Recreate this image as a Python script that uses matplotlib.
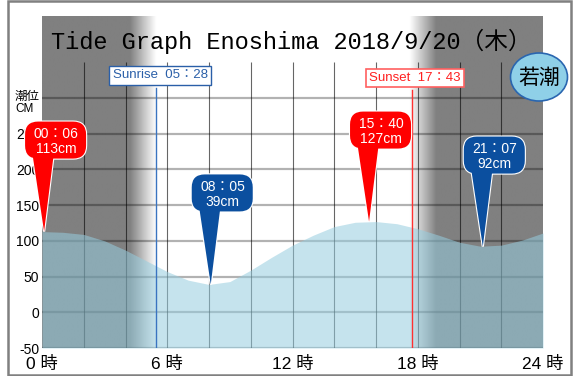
import matplotlib
matplotlib.use('Agg')
import matplotlib.pyplot as plt
import numpy as np
from matplotlib import font_manager
from matplotlib.patches import FancyBboxPatch, Polygon, Ellipse, Rectangle
from matplotlib.transforms import blended_transform_factory

# ---------------- data ----------------
hours = list(range(25))
tide_cm = [113, 112, 109, 100, 87, 72, 57, 45, 39, 43, 59, 77, 94,
           108, 120, 126, 127, 124, 117, 108, 98, 92.5, 94, 101, 111]

extreme_times = ["00：06", "08：05", "15：40", "21：07"]
extreme_hours = [0 + 6/60, 8 + 5/60, 15 + 40/60, 21 + 7/60]
extreme_cm = [113, 39, 127, 92]
extreme_kind = ["high", "low", "high", "low"]

sunrise_h = 5 + 28/60
sunset_h = 17 + 43/60
sunrise_text = "Sunrise  05：28"
sunset_text = "Sunset  17：43"

title_text = "Tide Graph Enoshima 2018/9/20（木）"
tide_name = "若潮"

xtick_vals = [0, 6, 12, 18, 24]
xtick_labels = ["0 時", "6 時", "12 時", "18 時", "24 時"]
ytick_vals = [-50, 0, 50, 100, 150, 200, 250]
ygrid_vals = [-50, 0, 50, 100, 150, 200, 250, 300]
xgrid_vals = [2, 4, 6, 8, 10, 12, 14, 16, 18, 20, 22]

# ---------------- fonts ----------------
avail = {f.name for f in font_manager.fontManager.ttflist}
CJK = 'Noto Sans CJK JP'
has_narrow = 'Liberation Sans Narrow' in avail
NARROW = 'Liberation Sans Narrow' if has_narrow else 'Liberation Sans'
SANS = ['Liberation Sans', CJK, 'DejaVu Sans']
plt.rcParams['font.family'] = SANS

W, H = 573, 376
fig = plt.figure(figsize=(W/100, H/100), dpi=100, facecolor='white')

# main axes (pixel layout: x 42..543, y 16..348)
ax = fig.add_axes([42/W, (H-348)/H, 501/W, 332/H])
ytop = 300 + 82 * 1.4
ax.set_xlim(0, 24)
ax.set_ylim(-50, ytop)
for s in ax.spines.values():
    s.set_visible(False)

# night shading
hg = np.linspace(0, 24, 1200)
level = np.interp(hg, [0, 4.2, sunrise_h, sunset_h - 0.1, 18.9, 24],
                  [0.5, 0.5, 1.0, 1.0, 0.5, 0.5])
ax.imshow(level[np.newaxis, :], cmap='gray', vmin=0, vmax=1,
          extent=[0, 24, -50, ytop], aspect='auto', interpolation='bilinear', zorder=0)

# grid
ax.hlines(ygrid_vals, 0, 24, colors='black', alpha=0.3, lw=1.6, zorder=1)
ax.vlines(xgrid_vals, -50, 350, colors='black', alpha=0.6, lw=0.8, zorder=1)

# tide
ax.fill_between(hours, -50, tide_cm, color=(150/255, 205/255, 223/255),
                alpha=0.55, lw=0, zorder=2)

# sunrise / sunset
ax.axvline(sunrise_h, ymin=0, ymax=(348-88)/332, color='#3a74c0', lw=1.0, zorder=3)
ax.axvline(sunset_h, ymin=0, ymax=(348-90)/332, color='#ff3030', lw=1.0, zorder=3)
bt = blended_transform_factory(ax.transData, ax.transAxes)
fs_sun = 11 if has_narrow else 9.5
ax.text(sunrise_h + 0.2, (348-75.5)/332, sunrise_text, transform=bt, ha='center', va='center',
        color='#2a5fa8', fontsize=fs_sun, family=[NARROW, CJK], zorder=6,
        bbox=dict(boxstyle='square,pad=0.25', fc='white', ec='#2a5fa8', lw=1.0))
ax.text(sunset_h + 0.13, (348-78)/332, sunset_text, transform=bt, ha='center', va='center',
        color='#ff2020', fontsize=fs_sun, family=[NARROW, CJK], zorder=6,
        bbox=dict(boxstyle='square,pad=0.25', fc='white', ec='#ff6060', lw=1.2))

# ticks
ax.set_yticks(ytick_vals)
ax.set_yticklabels([str(v) for v in ytick_vals], fontsize=10, family=SANS)
ax.set_xticks(xtick_vals)
ax.set_xticklabels(xtick_labels, fontsize=12.5, family=SANS)
ax.tick_params(axis='y', length=0, pad=2)
ax.tick_params(axis='x', length=0, pad=6)

# overlay in pixel coordinates (y down)
ov = fig.add_axes([0, 0, 1, 1], zorder=5)
ov.set_xlim(0, W)
ov.set_ylim(H, 0)
ov.axis('off')

ov.add_patch(Rectangle((8, 1), 563, 374, fill=False, ec='#808080', lw=1.8))
ov.text(291, 41, title_text, ha='center', va='center', fontsize=17,
        family=['Liberation Mono', CJK], color='black')
ov.text(15, 96, "潮位", ha='left', va='center', fontsize=9, family=[CJK])
ov.text(15, 109, "CM", ha='left', va='center', fontsize=8.5, family=[NARROW])

ov.add_patch(Ellipse((539, 77), 57, 48, fc='#8fd0e8', ec='#2a66b0', lw=1.2))
ov.text(539, 78, tide_name, ha='center', va='center', fontsize=15, family=[CJK])

# balloons
colors = {"high": "#ff0000", "low": "#0b4f9f"}
inv = ov.transData.inverted()
for t, h, v, k in zip(extreme_times, extreme_hours, extreme_cm, extreme_kind):
    tx, ty = inv.transform(ax.transData.transform((h, v)))
    c = colors[k]
    body_kw = dict(boxstyle='round,pad=0,rounding_size=13')
    pts = [(tx - 12, ty - 80), (tx + 10, ty - 80), (tx, ty)]
    # white outline pass
    ov.add_patch(FancyBboxPatch((tx - 19, ty - 110), 61, 37, fc='white', ec='white', lw=1.6, **body_kw))
    ov.add_patch(Polygon(pts, closed=True, fc='white', ec='white', lw=1.6))
    # fill pass
    ov.add_patch(FancyBboxPatch((tx - 19, ty - 110), 61, 37, fc=c, ec='none', **body_kw))
    ov.add_patch(Polygon(pts, closed=True, fc=c, ec='none'))
    ov.text(tx + 12, ty - 90, f"{t}\n{v}cm", ha='center', va='center', color='white',
            fontsize=10, family=SANS, linespacing=1.15)

fig.savefig('out.png', dpi=100, facecolor='white')
